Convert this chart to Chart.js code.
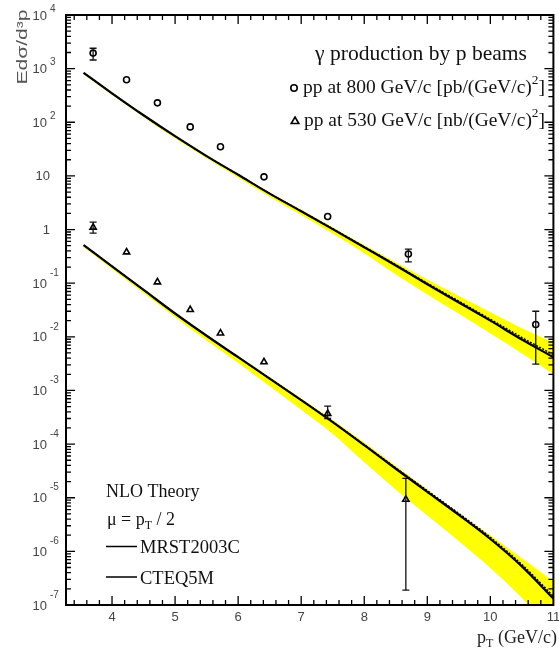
<!DOCTYPE html>
<html><head><meta charset="utf-8">
<script src="https://cdn.jsdelivr.net/npm/chart.js@4/dist/chart.umd.min.js"></script>
<style>html,body{margin:0;padding:0;background:#fff}#wrap{width:559px;height:653px;position:relative}</style>
</head><body><div id="wrap"><canvas id="c" width="559" height="653"></canvas></div>
<script>
// ---- data ----
const theoryPt = [3.55,4.0,4.5,5.0,5.5,6.0,6.5,7.0,7.5,8.0,8.5,9.0,9.5,10.0,10.5,11.0];
const mrst800  = [832,347,135,55,23.4,10.5,4.68,2.19,1.02,0.468,0.214,0.0955,0.0437,0.0200,0.0089,0.00417];
const cteq800  = [832,347,135,55,23.4,10.5,4.70,2.21,1.04,0.478,0.221,0.0995,0.0462,0.0214,0.0097,0.00465];
const bandHi800 = [851,355,138,56.2,24.0,11.0,4.90,2.34,1.10,0.513,0.245,0.117,0.0575,0.0288,0.0145,0.00794];
const bandLo800 = [776,324,126,50.1,21.4,9.33,4.07,1.86,0.832,0.363,0.145,0.0617,0.0269,0.0115,0.0049,0.0020];
const mrst530  = [0.513,0.2065,0.0750,0.0272,0.01047,0.00417,0.00166,6.61e-4,2.57e-4,9.55e-5,3.47e-5,1.29e-5,4.79e-6,1.70e-6,5.25e-7,1.32e-7];
const cteq530  = [0.513,0.2065,0.0750,0.0272,0.01047,0.00417,0.00167,6.66e-4,2.60e-4,9.75e-5,3.60e-5,1.36e-5,5.1e-6,1.83e-6,5.7e-7,1.46e-7];
const bandHi530 = [0.525,0.211,0.0785,0.0285,0.01096,0.00437,0.00178,7.08e-4,2.82e-4,1.07e-4,3.89e-5,1.41e-5,5.13e-6,2.0e-6,7.41e-7,2.75e-7];
const bandLo530 = [0.468,0.184,0.0653,0.0232,0.00851,0.00324,0.00120,4.37e-4,1.55e-4,4.57e-5,1.41e-5,4.68e-6,1.55e-6,4.9e-7,1.35e-7,3.09e-8];

const pt800  = [3.7,4.23,4.72,5.24,5.72,6.41,7.42,8.70,10.72];
const sig800 = [1950,620,230,82,35,9.6,1.75,0.35,0.017];
const lo800  = [1450,590,218,78,33.3,9.1,1.5,0.25,0.0031];
const hi800  = [2400,650,242,86,36.8,10.1,2.0,0.43,0.030];

const pt530  = [3.7,4.23,4.72,5.24,5.72,6.41,7.42,8.66];
const sig530 = [1.1,0.38,0.105,0.032,0.0117,0.0034,3.7e-4,9.3e-6];
const lo530  = [0.86,0.36,0.10,0.0305,0.0111,0.00323,3.0e-4,1.9e-7];
const hi530  = [1.37,0.40,0.11,0.0336,0.0123,0.00357,5.1e-4,2.3e-5];

const xTicks = [4,5,6,7,8,9,10,11];
const yExps  = [-7,-6,-5,-4,-3,-2,-1,0,1,2,3,4];

// ---- helpers ----
const pts = (xs, ys) => xs.map((x, i) => ({x, y: ys[i]}));
const SERIF = '"Liberation Serif","Times New Roman",serif';
const SANS  = '"Liberation Sans",Arial,sans-serif';

// draw runs of text [text, sizePx, dy]; optionally stretch horizontally to a target width
function runs(ctx, x, y, list, color, targetW) {
  ctx.save();
  ctx.fillStyle = color || '#000';
  ctx.textBaseline = 'alphabetic';
  ctx.textAlign = 'left';
  let total = 0;
  for (const [t, s] of list) { ctx.font = s + 'px ' + SERIF; total += ctx.measureText(t).width; }
  const k = targetW ? targetW / total : 1;
  ctx.translate(x, y);
  ctx.scale(k, 1);
  let cx = 0;
  for (const [t, s, dy] of list) {
    ctx.font = s + 'px ' + SERIF;
    ctx.fillText(t, cx, dy);
    cx += ctx.measureText(t).width;
  }
  ctx.restore();
}

const decor = {
  id: 'decor',
  afterDraw(chart) {
    const ctx = chart.ctx, xs = chart.scales.x, ys = chart.scales.y, a = chart.chartArea;
    ctx.save();
    // error bars
    ctx.strokeStyle = '#111'; ctx.lineWidth = 1.3;
    const bars = (px, lo, hi) => {
      px.forEach((x, i) => {
        const X = xs.getPixelForValue(x);
        const Y1 = Math.min(ys.getPixelForValue(lo[i]), a.bottom);
        const Y2 = ys.getPixelForValue(hi[i]);
        if (Math.abs(Y1 - Y2) < 7) return;
        ctx.beginPath();
        ctx.moveTo(X, Y1); ctx.lineTo(X, Y2);
        ctx.moveTo(X - 3.5, Y1); ctx.lineTo(X + 3.5, Y1);
        ctx.moveTo(X - 3.5, Y2); ctx.lineTo(X + 3.5, Y2);
        ctx.stroke();
      });
    };
    bars(pt800, lo800, hi800);
    bars(pt530, lo530, hi530);

    // frame
    ctx.strokeStyle = '#000';
    ctx.lineWidth = 2;
    ctx.strokeRect(a.left, a.top, a.right - a.left, a.bottom - a.top);

    // x ticks (inward, bottom and top)
    ctx.lineWidth = 1.3;
    ctx.beginPath();
    for (let i = 17; i <= 55; i++) {
      const v = i / 5;
      const X = xs.getPixelForValue(v);
      if (X < a.left + 1 || X > a.right - 1) continue;
      const len = (i % 5 === 0) ? 9 : 5;
      ctx.moveTo(X, a.bottom); ctx.lineTo(X, a.bottom - len);
      ctx.moveTo(X, a.top); ctx.lineTo(X, a.top + len);
    }
    // y ticks (inward, left and right)
    for (let e = -7; e <= 4; e++) {
      for (let k = 1; k <= 9; k++) {
        if (e === 4 && k > 1) break;
        const Y = ys.getPixelForValue(k * Math.pow(10, e));
        if (Y < a.top - 0.5 || Y > a.bottom + 0.5) continue;
        const len = (k === 1) ? 9 : 5;
        ctx.moveTo(a.left, Y); ctx.lineTo(a.left + len, Y);
        ctx.moveTo(a.right, Y); ctx.lineTo(a.right - len, Y);
      }
    }
    ctx.stroke();

    // x tick labels
    ctx.fillStyle = '#444';
    ctx.font = '13px ' + SANS;
    ctx.textAlign = 'center'; ctx.textBaseline = 'middle';
    xTicks.forEach(v => ctx.fillText(String(v), xs.getPixelForValue(v), a.bottom + 12));

    // y tick labels with raised exponents
    yExps.forEach(e => {
      const Y = ys.getPixelForValue(Math.pow(10, e));
      ctx.textBaseline = 'middle';
      ctx.font = '13px ' + SANS;
      if (e === 0 || e === 1) {
        ctx.textAlign = 'right';
        ctx.fillText(e === 0 ? '1' : '10', 50, Y + 1);
      } else {
        ctx.textAlign = 'right';
        ctx.fillText('10', 47, Y + 1);
        ctx.font = '10px ' + SANS; ctx.textAlign = 'left';
        ctx.fillText(String(e), 50, Y - (e < 0 ? 10 : 6));
      }
    });

    // y axis title (rotated)
    ctx.save();
    ctx.translate(23, 47);
    ctx.rotate(-Math.PI / 2);
    ctx.fillStyle = '#555';
    ctx.font = '15px ' + SANS;
    const tw = ctx.measureText('Edσ/d³p').width;
    ctx.scale(75 / tw, 1);
    ctx.textAlign = 'center'; ctx.textBaseline = 'middle';
    ctx.fillText('Edσ/d³p', 0, 0);
    ctx.restore();

    // x axis title
    runs(ctx, 477, 643, [['p', 18, 0], ['T', 12, 4], [' (GeV/c)', 18, 0]], '#222', 80);

    // top-right legend
    runs(ctx, 315, 60, [['γ production by p beams', 21, 0]], '#111', 212);
    runs(ctx, 303, 93, [['pp at 800 GeV/c [pb/(GeV/c)', 19, 0], ['2', 13, -9], [']', 19, 0]], '#111', 242);
    runs(ctx, 304, 126, [['pp at 530 GeV/c [nb/(GeV/c)', 19, 0], ['2', 13, -9], [']', 19, 0]], '#111', 241);
    ctx.strokeStyle = '#000'; ctx.lineWidth = 1.6; ctx.fillStyle = '#fff';
    ctx.beginPath(); ctx.arc(294, 88, 3.2, 0, Math.PI * 2); ctx.fill(); ctx.stroke();
    ctx.beginPath(); ctx.moveTo(295, 117); ctx.lineTo(298.8, 123.5); ctx.lineTo(291.2, 123.5); ctx.closePath(); ctx.fill(); ctx.stroke();

    // bottom-left legend
    runs(ctx, 106, 497, [['NLO Theory', 18, 0]], '#111');
    runs(ctx, 107, 525, [['μ = p', 18, 0], ['T', 12, 4], [' / 2', 18, 0]], '#111', 68);
    ctx.strokeStyle = '#000'; ctx.lineWidth = 1.6;
    ctx.beginPath(); ctx.moveTo(106, 546.5); ctx.lineTo(137, 546.5); ctx.moveTo(106, 577); ctx.lineTo(137, 577); ctx.stroke();
    runs(ctx, 140, 553, [['MRST2003C', 18.5, 0]], '#111');
    runs(ctx, 140, 584, [['CTEQ5M', 18.5, 0]], '#111');
    ctx.restore();
  }
};

const line = (label, data, w, order, dash) => ({
  label, data: pts(theoryPt, data), borderColor: '#000', borderWidth: w, borderDash: dash || [],
  pointRadius: 0, fill: false, cubicInterpolationMode: 'monotone', order
});
const band = (label, data, fill) => ({
  label, data: pts(theoryPt, data), borderWidth: 0, borderColor: 'rgba(0,0,0,0)',
  backgroundColor: '#ffff00', pointRadius: 0, fill, cubicInterpolationMode: 'monotone', order: 3
});

new Chart(document.getElementById('c'), {
  type: 'line',
  data: {
    datasets: [
      band('band800 hi', bandHi800, '+1'),
      band('band800 lo', bandLo800, false),
      band('band530 hi', bandHi530, '+1'),
      band('band530 lo', bandLo530, false),
      line('MRST2003C 800', mrst800, 2.2, 2),
      line('CTEQ5M 800', cteq800, 1.4, 2, [2, 1.5]),
      line('MRST2003C 530', mrst530, 2.2, 2),
      line('CTEQ5M 530', cteq530, 1.4, 2, [2, 1.5]),
      { label: 'pp at 800 GeV/c', data: pts(pt800, sig800), showLine: false, pointStyle: 'circle',
        pointRadius: 3, pointBorderWidth: 1.6, pointBorderColor: '#000', pointBackgroundColor: '#fff', order: 1 },
      { label: 'pp at 530 GeV/c', data: pts(pt530, sig530), showLine: false, pointStyle: 'triangle',
        pointRadius: 3.6, pointBorderWidth: 1.6, pointBorderColor: '#000', pointBackgroundColor: '#fff', order: 1 }
    ]
  },
  options: {
    responsive: false, animation: false, events: [], devicePixelRatio: 1,
    layout: { padding: { top: 15, right: 4, left: 0, bottom: 0 } },
    plugins: { legend: { display: false }, tooltip: { enabled: false } },
    scales: {
      x: { type: 'linear', min: 3.27, max: 11.0, grid: { display: false }, border: { display: false },
           ticks: { display: false }, afterFit: s => { s.height = 48; } },
      y: { type: 'logarithmic', min: 1e-7, max: 1e4, grid: { display: false }, border: { display: false },
           ticks: { display: false }, afterFit: s => { s.width = 66; } }
    }
  },
  plugins: [decor]
});
</script>
</body></html>
